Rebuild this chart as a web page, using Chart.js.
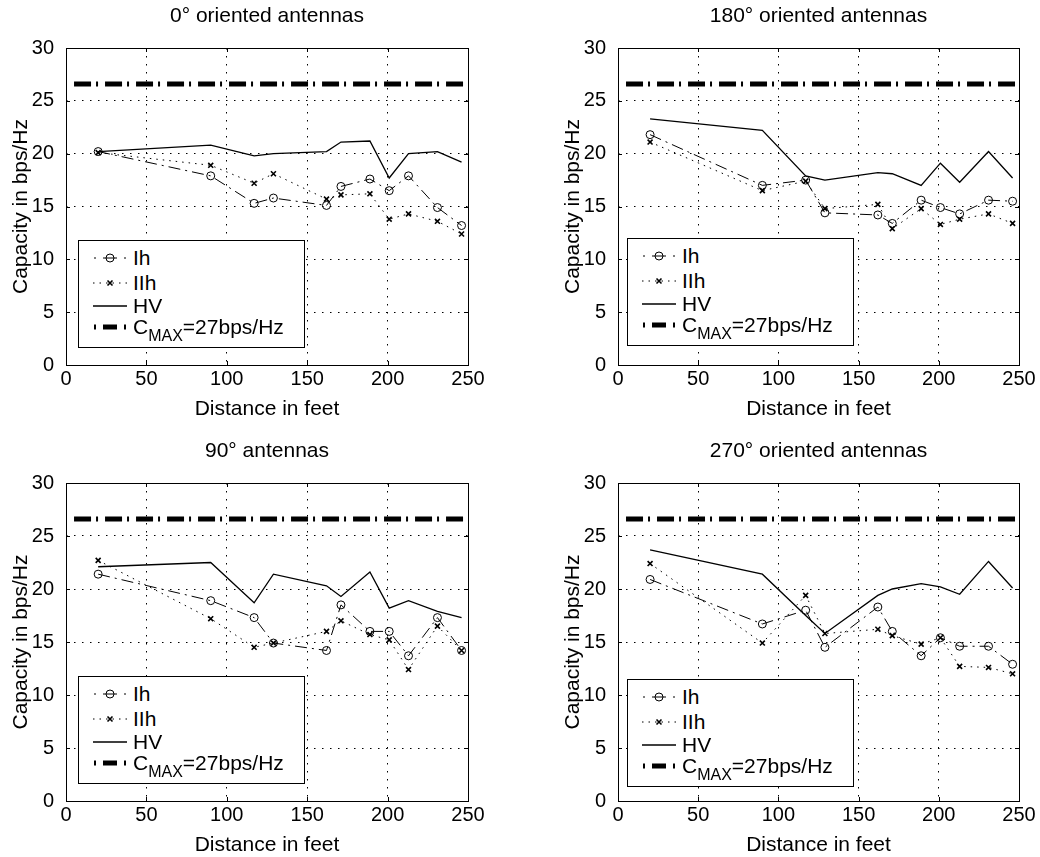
<!DOCTYPE html>
<html>
<head>
<meta charset="utf-8">
<title>Capacity vs distance</title>
<script src="https://cdn.jsdelivr.net/npm/chart.js@4.4.1/dist/chart.umd.min.js"></script>
<style>
html, body { margin: 0; padding: 0; background: #fff; overflow: hidden; width: 1040px; height: 857px; }
canvas.panel { position: absolute; }
.legend { position: absolute; width: 227px; height: 108px; border: 1px solid #000; background: #fff;
  box-sizing: border-box; font-family: "Liberation Sans", Arial, sans-serif; font-size: 21px; color: #000; }
.legend canvas { position: absolute; left: 11px; }
.legend span { position: absolute; left: 54px; line-height: 24px; white-space: nowrap; }
.legend sub { font-size: 16px; vertical-align: -7px; line-height: 0; }
</style>
</head>
<body>
<canvas class="panel" id="c0" width="520" height="423" style="left:0;top:0"></canvas>
<canvas class="panel" id="c180" width="488" height="423" style="left:552px;top:0"></canvas>
<canvas class="panel" id="c90" width="520" height="424" style="left:0;top:435px"></canvas>
<canvas class="panel" id="c270" width="488" height="424" style="left:552px;top:435px"></canvas>

<script>
// distances (feet) of the measurement points
var dist = [20, 90, 117, 129, 162, 171, 189, 201, 213, 231, 246];
var xTicks = [0, 50, 100, 150, 200, 250];
var yTicks = [0, 5, 10, 15, 20, 25, 30];

// C_MAX reference line
var cmaxX = [5, 250];
var cmaxY = 26.6;

// 0 deg oriented antennas
var ih0  = [20.2, 17.9, 15.3, 15.8, 15.1, 16.9, 17.6, 16.5, 17.9, 14.9, 13.2];
var iih0 = [20.1, 18.9, 17.2, 18.1, 15.7, 16.1, 16.2, 13.8, 14.3, 13.6, 12.4];
var hv0  = [20.2, 20.8, 19.8, 20.0, 20.2, 21.1, 21.2, 17.7, 20.0, 20.2, 19.2];

// 180 deg oriented antennas
var ih180  = [21.8, 17.0, 17.5, 14.4, 14.2, 13.4, 15.6, 14.9, 14.3, 15.6, 15.5];
var iih180 = [21.1, 16.5, 17.4, 14.8, 15.2, 12.9, 14.8, 13.3, 13.8, 14.3, 13.4];
var hv180  = [23.3, 22.2, 17.9, 17.5, 18.2, 18.1, 17.0, 19.1, 17.3, 20.2, 17.7];

// 90 deg antennas
var ih90  = [21.4, 18.9, 17.3, 14.9, 14.2, 18.5, 16.0, 16.0, 13.7, 17.3, 14.2];
var iih90 = [22.7, 17.2, 14.5, 14.9, 16.0, 17.0, 15.7, 15.2, 12.4, 16.5, 14.2];
var hv90  = [22.1, 22.5, 18.7, 21.4, 20.3, 19.3, 21.6, 18.2, 18.9, 17.9, 17.3];

// 270 deg oriented antennas
var ih270  = [20.9, 16.7, 18.0, 14.5, 18.3, 16.0, 13.7, 15.4, 14.6, 14.6, 12.9];
var iih270 = [22.4, 14.9, 19.4, 15.8, 16.2, 15.6, 14.8, 15.4, 12.7, 12.6, 12.0];
var hv270  = [23.7, 21.4, 17.5, 15.8, 19.4, 20.0, 20.5, 20.2, 19.5, 22.6, 20.1];

var FONT = '"Liberation Sans", Arial, sans-serif';
Chart.defaults.font.family = FONT;
Chart.defaults.color = '#000';

function pts(xs, ys) {
    return xs.map(function(x, i) { return {x: x, y: ys[i]}; });
}

// box round the plot area with small inward ticks, like the original
var framePlugin = {
    id: 'frame',
    afterDraw: function(chart) {
        var a = chart.chartArea, ctx = chart.ctx;
        var sx = chart.scales.x, sy = chart.scales.y;
        ctx.save();
        ctx.strokeStyle = '#000';
        ctx.lineWidth = 1;
        ctx.beginPath();
        xTicks.forEach(function(v) {
            var p = Math.round(sx.getPixelForValue(v)) + 0.5;
            ctx.moveTo(p, a.bottom); ctx.lineTo(p, a.bottom - 4);
            ctx.moveTo(p, a.top); ctx.lineTo(p, a.top + 4);
        });
        yTicks.forEach(function(v) {
            var p = Math.round(sy.getPixelForValue(v)) + 0.5;
            ctx.moveTo(a.left, p); ctx.lineTo(a.left + 4, p);
            ctx.moveTo(a.right, p); ctx.lineTo(a.right - 4, p);
        });
        ctx.stroke();
        ctx.strokeRect(Math.round(a.left) + 0.5, Math.round(a.top) + 0.5,
                       Math.round(a.right - a.left), Math.round(a.bottom - a.top));
        ctx.restore();
    }
};

function makeChart(id, title, ih, iih, hv, padRight) {
    var ctx = document.getElementById(id).getContext('2d');
    return new Chart(ctx, {
        type: 'line',
        data: {
            datasets: [
                {
                    label: 'Ih',
                    data: pts(dist, ih),
                    borderColor: '#000',
                    borderWidth: 1,
                    borderDash: [12, 5, 2, 5],
                    pointStyle: 'circle',
                    pointRadius: 4,
                    pointBorderWidth: 1,
                    pointBorderColor: '#000',
                    pointBackgroundColor: 'rgba(0,0,0,0)',
                    tension: 0,
                    fill: false
                },
                {
                    label: 'IIh',
                    data: pts(dist, iih),
                    borderColor: '#000',
                    borderWidth: 1,
                    borderDash: [1.5, 5],
                    pointStyle: 'crossRot',
                    pointRadius: 3.5,
                    pointBorderWidth: 1.6,
                    pointBorderColor: '#000',
                    tension: 0,
                    fill: false
                },
                {
                    label: 'HV',
                    data: pts(dist, hv),
                    borderColor: '#000',
                    borderWidth: 1.3,
                    pointRadius: 0,
                    tension: 0,
                    fill: false
                },
                {
                    label: 'CMAX=27bps/Hz',
                    data: pts(cmaxX, [cmaxY, cmaxY]),
                    borderColor: '#000',
                    borderWidth: 5,
                    borderDash: [17, 5, 2, 7],
                    borderCapStyle: 'butt',
                    pointRadius: 0,
                    tension: 0,
                    fill: false
                }
            ]
        },
        options: {
            responsive: false,
            animation: false,
            events: [],
            layout: { padding: { left: 0, top: 0, right: padRight, bottom: 0 } },
            plugins: {
                legend: { display: false },
                tooltip: { enabled: false },
                title: {
                    display: true,
                    text: title,
                    fullSize: false,
                    color: '#000',
                    font: { family: FONT, size: 21, weight: 'normal' },
                    padding: { top: 4, bottom: 18.8 }
                }
            },
            scales: {
                x: {
                    type: 'linear',
                    min: 0,
                    max: 250,
                    afterBuildTicks: function(axis) {
                        axis.ticks = xTicks.map(function(v) { return {value: v}; });
                    },
                    afterFit: function(axis) { axis.height = 58; },
                    grid: { color: '#000', lineWidth: 1, drawTicks: false },
                    border: { display: false, dash: [1.5, 6.5] },
                    ticks: { font: { size: 20 }, padding: 2, maxRotation: 0 },
                    title: {
                        display: true,
                        text: 'Distance in feet',
                        font: { size: 21 },
                        padding: { top: 0, bottom: 1 }
                    }
                },
                y: {
                    type: 'linear',
                    min: 0,
                    max: 30,
                    afterBuildTicks: function(axis) {
                        axis.ticks = yTicks.map(function(v) { return {value: v}; });
                    },
                    afterFit: function(axis) { axis.width = 66; },
                    grid: { color: '#000', lineWidth: 1, drawTicks: false },
                    border: { display: false, dash: [1.5, 6.5] },
                    ticks: { font: { size: 20 }, padding: 12 },
                    title: {
                        display: true,
                        text: 'Capacity in bps/Hz',
                        font: { size: 21 },
                        padding: { top: 9, bottom: 0 }
                    }
                }
            }
        },
        plugins: [framePlugin]
    });
}

makeChart('c0', '0° oriented antennas', ih0, iih0, hv0, 52);
makeChart('c180', '180° oriented antennas', ih180, iih180, hv180, 21);
makeChart('c90', '90° antennas', ih90, iih90, hv90, 52);
makeChart('c270', '270° oriented antennas', ih270, iih270, hv270, 21);

// legend boxes, same entries in every panel
function drawSample(cv, kind) {
    var c = cv.getContext('2d');
    c.strokeStyle = '#000';
    c.lineCap = 'butt';
    c.beginPath();
    if (kind === 'ih') {
        c.lineWidth = 1;
        c.setLineDash([2, 7, 14, 7, 2, 100]);
        c.moveTo(4, 12); c.lineTo(36, 12); c.stroke();
        c.setLineDash([]);
        c.beginPath(); c.arc(20, 12, 4, 0, Math.PI * 2); c.stroke();
    } else if (kind === 'iih') {
        c.lineWidth = 1;
        c.setLineDash([1.5, 5]);
        c.moveTo(3, 12); c.lineTo(37, 12); c.stroke();
        c.setLineDash([]);
        c.lineWidth = 1.6;
        c.beginPath();
        c.moveTo(17.5, 9.5); c.lineTo(22.5, 14.5);
        c.moveTo(22.5, 9.5); c.lineTo(17.5, 14.5);
        c.stroke();
    } else if (kind === 'hv') {
        c.lineWidth = 1.3;
        c.moveTo(3, 12); c.lineTo(37, 12); c.stroke();
    } else {
        c.lineWidth = 5;
        c.setLineDash([2, 7, 14, 7, 2, 100]);
        c.moveTo(4, 12); c.lineTo(36, 12); c.stroke();
    }
}

var legendSpots = [[78, 240], [627, 238], [78, 676], [627, 679]];
var entries = [
    ['ih', 'Ih', 5],
    ['iih', 'IIh', 30],
    ['hv', 'HV', 53],
    ['cmax', 'C<sub>MAX</sub>=27bps/Hz', 74]
];
legendSpots.forEach(function(p) {
    var box = document.createElement('div');
    box.className = 'legend';
    box.style.left = p[0] + 'px';
    box.style.top = p[1] + 'px';
    entries.forEach(function(e) {
        var cv = document.createElement('canvas');
        cv.width = 40; cv.height = 24;
        cv.style.top = e[2] + 'px';
        box.appendChild(cv);
        drawSample(cv, e[0]);
        var sp = document.createElement('span');
        sp.style.top = e[2] + 'px';
        sp.innerHTML = e[1];
        box.appendChild(sp);
    });
    document.body.appendChild(box);
});
</script>
</body>
</html>
